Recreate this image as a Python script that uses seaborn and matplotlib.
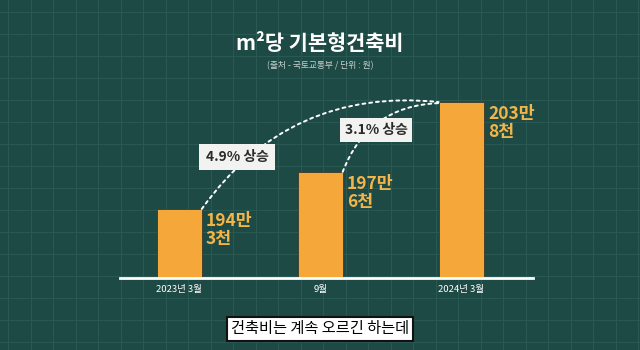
import matplotlib
matplotlib.use("Agg")
import matplotlib.pyplot as plt
import seaborn as sns
import pandas as pd
import numpy as np

# ---- data ----
categories = ["2023년 3월", "9월", "2024년 3월"]
values = [194.3, 197.6, 203.8]          # 만원 per m²
rise_labels = ["4.9% 상승", "3.1% 상승"]
title = "m²당 기본형건축비"
subtitle = "(출처 - 국토교통부 / 단위 : 원)"
caption = "건축비는 계속 오르긴 하는데"

sns.set_theme(style="white")
plt.rcParams['font.family'] = ['Noto Sans CJK KR', 'DejaVu Sans']

BG = "#1e4a46"
GRID = "#2b5a55"
BAR = "#f5a73a"
LABEL = "#f3b548"

fig = plt.figure(figsize=(6.4, 3.5), dpi=100)
fig.patch.set_facecolor(BG)

# background grid
bg = fig.add_axes([0, 0, 1, 1], zorder=0)
bg.set_xlim(0, 640)
bg.set_ylim(350, 0)
bg.set_facecolor(BG)
for gx in np.arange(8, 640, 22.5):
    bg.axvline(gx, color=GRID, lw=0.7)
for gy in np.arange(12, 350, 22):
    bg.axhline(gy, color=GRID, lw=0.7)
bg.axis("off")

# main axes
W, H = 640, 350
left, right = 120, 533
base_y, top_y = 278, 90
ax = fig.add_axes([left / W, 1 - base_y / H, (right - left) / W, (base_y - top_y) / H], zorder=1)
ax.patch.set_alpha(0)

df = pd.DataFrame({"month": categories, "value": values})
sns.barplot(data=df, x="month", y="value", ax=ax, color=BAR, width=0.32,
            saturation=1, edgecolor="#3a3a2a", linewidth=0.6)

ymin = 188.17
ax.set_ylim(ymin, ymin + (base_y - top_y) / 11.26)
ax.set_xlim(-0.42, 2.51)

for s in ["top", "right", "left"]:
    ax.spines[s].set_visible(False)
ax.spines["bottom"].set_color("white")
ax.spines["bottom"].set_linewidth(2)
ax.set_yticks([])
ax.set_xlabel("")
ax.set_ylabel("")
ax.tick_params(axis="x", length=0, pad=5, labelsize=6.8, labelcolor="white")

# value labels
for i, v in enumerate(values):
    man = int(v)
    cheon = int(round((v - man) * 10))
    ax.text(i + 0.19, v - 0.3, f"{man}만\n{cheon}천", ha="left", va="top",
            fontsize=12.5, fontweight="bold", color=LABEL, linespacing=1.0)

# dotted curves
hw = 0.16
ax.annotate("", xy=(2 - hw, values[2]), xytext=(0 + hw, values[0]),
            arrowprops=dict(arrowstyle="-", color="white", lw=1.4, linestyle=(0, (1.5, 2)),
                            connectionstyle="arc3,rad=-0.29", shrinkA=0, shrinkB=0))
ax.annotate("", xy=(2 - hw, values[2] - 0.1), xytext=(1 + hw, values[1]),
            arrowprops=dict(arrowstyle="-", color="white", lw=1.4, linestyle=(0, (1.5, 2)),
                            connectionstyle="arc3,rad=-0.33", shrinkA=0, shrinkB=0))

# rise labels
fig.text(237 / W, 1 - 157 / H, rise_labels[0], ha="center", va="center", fontsize=10,
         fontweight="bold", color="#2a2a2a", zorder=5,
         bbox=dict(boxstyle="square,pad=0.45", fc="#f2f2f0", ec="none"))
fig.text(376 / W, 1 - 130 / H, rise_labels[1], ha="center", va="center", fontsize=10,
         fontweight="bold", color="#2a2a2a", zorder=5,
         bbox=dict(boxstyle="square,pad=0.35", fc="#f2f2f0", ec="none"))

# title
fig.text(0.5, 1 - 43 / H, title, ha="center", va="center", fontsize=15,
         fontweight="bold", color="white")
fig.text(0.5, 1 - 66 / H, subtitle, ha="center", va="center", fontsize=6.3, color="#c8d2cf")

# caption
fig.text(0.5, 1 - 329 / H, caption, ha="center", va="center", fontsize=11, color="black",
         bbox=dict(boxstyle="square,pad=0.25", fc="white", ec="#111111", lw=1.5))

fig.savefig("out.png", dpi=100, facecolor=BG)
